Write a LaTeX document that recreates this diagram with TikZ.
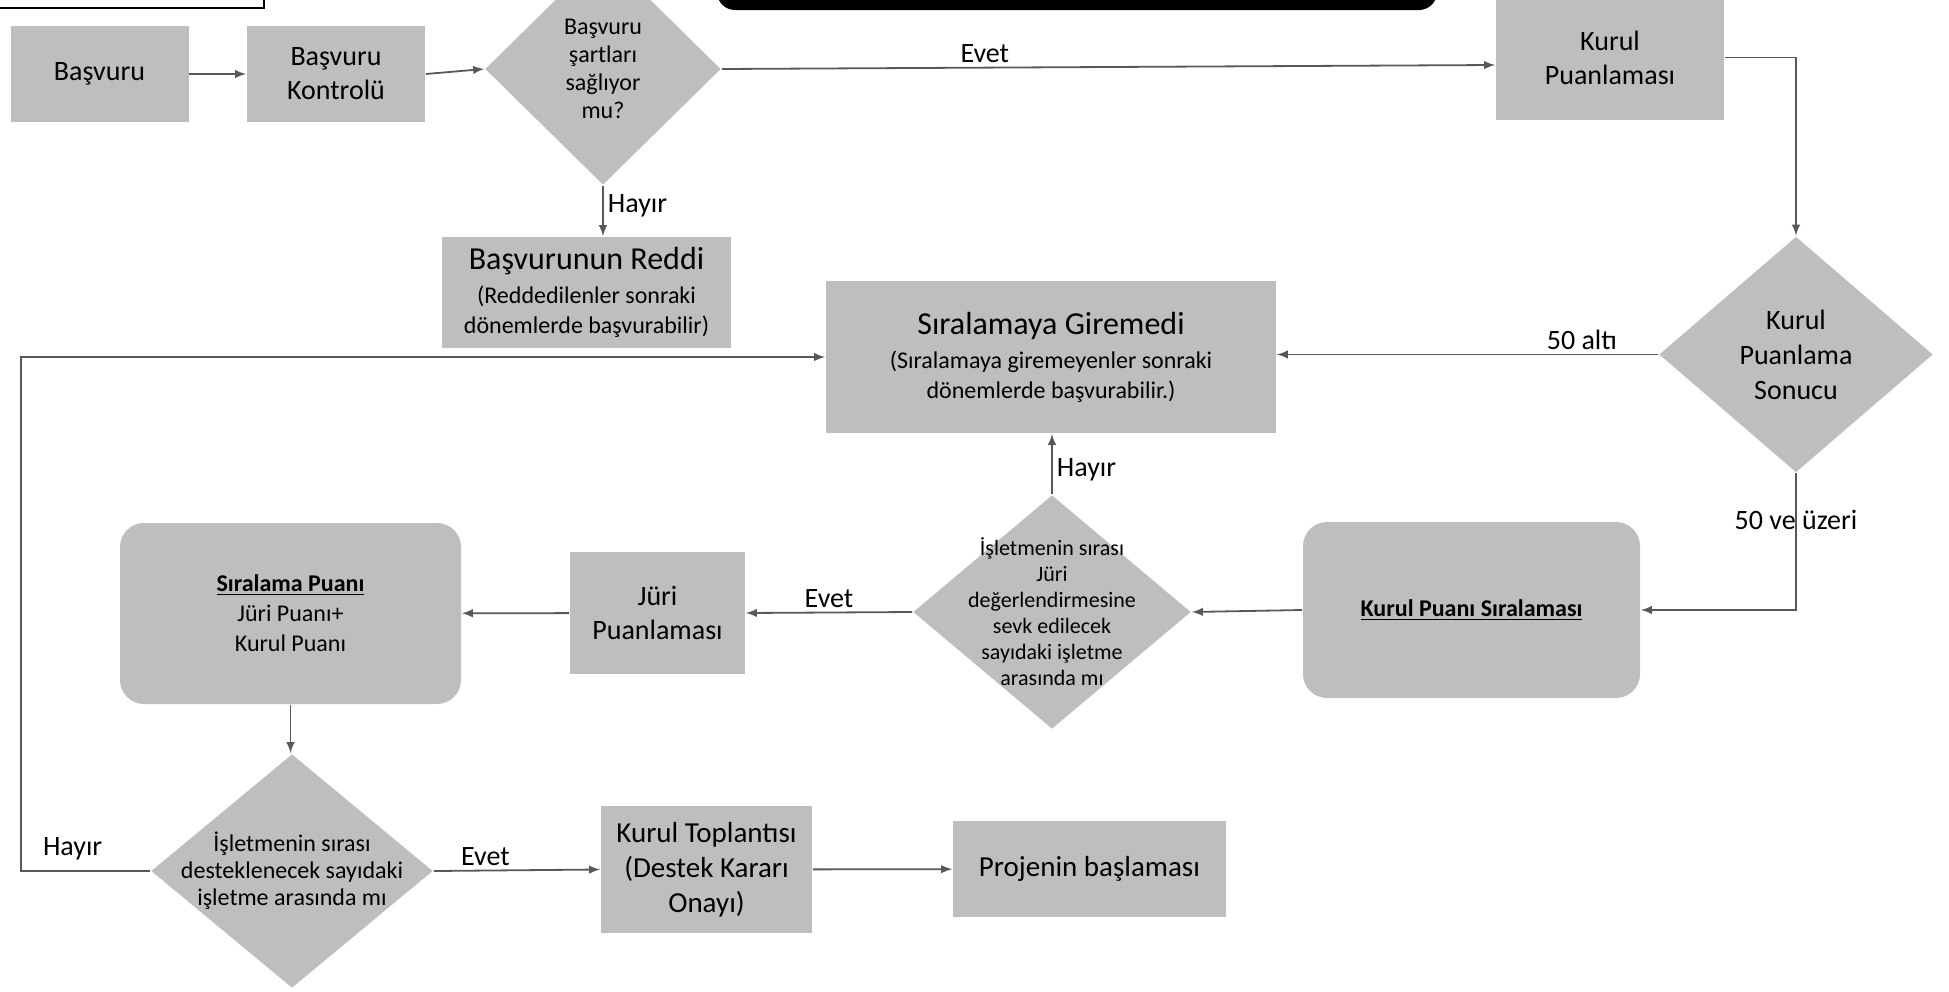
\documentclass[tikz,border=0pt]{standalone}
\usepackage{fontspec}
\setmainfont{Carlito}
\usepackage{tikz}
\usetikzlibrary{arrows,shapes.geometric}
\usetikzlibrary{calc}
\usetikzlibrary{positioning}

\definecolor{boxgray}{RGB}{190,190,190}
\definecolor{linegray}{RGB}{88,88,88}

\begin{document}
\begin{tikzpicture}[-latex,x=0.5pt,y=-0.5pt,line width=0.9pt]
	\tikzstyle{box}=[rectangle, fill=boxgray, draw=none, align=center, inner sep=2pt, font=\fontsize{14}{17}\selectfont]
	\tikzstyle{rbox}=[box, rounded corners=12pt]
	\tikzstyle{decision}=[diamond, fill=boxgray, draw=none, inner sep=0pt]
	\tikzstyle{dtext}=[align=center, font=\fontsize{12}{14}\selectfont]
	\tikzstyle{lbl}=[font=\fontsize{14}{17}\selectfont, text=black, inner sep=2pt]
	\tikzstyle{conn}=[draw=linegray, -latex]

	\clip (0,0) rectangle (1949,991);

	% cut-off shapes at the top edge
	\draw[-, black, line width=0.8pt, fill=white] (-20,-60) rectangle (264,8);
	\fill[black, rounded corners=9pt] (717,-60) rectangle (1437,10);

	% first row
	\node[box, minimum width=89pt, minimum height=48pt] (bas) at (99.5,74) {Başvuru};
	\node[box, minimum width=89pt, minimum height=48pt] (kontrol) at (336,74) {Başvuru\\Kontrolü};
	\node[decision, minimum width=118pt, minimum height=116pt] (sart) at (603,69) {};
	\node[dtext] (sarttxt) at (sart) {Başvuru\\şartları\\sağlıyor\\mu?};
	\node[box, minimum width=114pt, minimum height=62.5pt] (kpuan) at (1610,57.5) {Kurul\\Puanlaması};

	\node[box, minimum width=144.5pt, minimum height=55.5pt, font=\fontsize{12}{15}\selectfont] (red) at (586.5,292.5)
		{{\fontsize{16}{19}\selectfont Başvurunun Reddi}\\[2pt](Reddedilenler sonraki\\dönemlerde başvurabilir)};
	\node[box, minimum width=225pt, minimum height=76pt, font=\fontsize{12}{15}\selectfont] (sira) at (1051,357)
		{{\fontsize{16}{19}\selectfont Sıralamaya Giremedi}\\[2pt](Sıralamaya giremeyenler sonraki\\dönemlerde başvurabilir.)};
	\node[decision, minimum width=137pt, minimum height=118pt] (sonuc) at (1796,354.5) {};
	\node[dtext, font=\fontsize{14}{17.5}\selectfont] (sonuctxt) at (sonuc) {Kurul\\Puanlama\\Sonucu};

	% middle row
	\node[rbox, minimum width=168.5pt, minimum height=88pt, font=\fontsize{12}{14}\selectfont] (kps) at (1471.5,610) {\underline{\textbf{Kurul Puanı Sıralaması}}};
	\node[decision, minimum width=139pt, minimum height=117pt] (jsev) at (1052,612) {};
	\node[dtext, font=\fontsize{11}{13}\selectfont] (jsevtxt) at (jsev) {İşletmenin sırası\\Jüri\\değerlendirmesine\\sevk edilecek\\sayıdaki işletme\\arasında mı};
	\node[box, minimum width=87.5pt, minimum height=61pt] (juri) at (657.5,613) {Jüri\\Puanlaması};
	\node[rbox, minimum width=170.5pt, minimum height=90.5pt, font=\fontsize{12}{15}\selectfont] (spuan) at (290.5,613.5) {\underline{\textbf{Sıralama Puanı}}\\Jüri Puanı+\\Kurul Puanı};

	% last row
	\node[decision, minimum width=141pt, minimum height=117pt] (dest) at (292,871) {};
	\node[dtext, font=\fontsize{12}{13.5}\selectfont] (desttxt) at (dest) {İşletmenin sırası\\desteklenecek sayıdaki\\işletme arasında mı};
	\node[box, minimum width=105.5pt, minimum height=63.5pt, font=\fontsize{14.5}{17.5}\selectfont] (toplanti) at (706.5,869.5) {Kurul Toplantısı\\(Destek Kararı\\Onayı)};
	\node[box, minimum width=136.5pt, minimum height=48pt, font=\fontsize{14.5}{17.5}\selectfont] (proje) at (1089.5,869) {Projenin başlaması};

	\coordinate (lft) at (21,0);

	% connectors
	\draw[conn] (bas) -- (kontrol);
	\draw[conn] (kontrol.east) -- (sart.west);
	\draw[conn] (sart.east) -- node[lbl, above, pos=0.34] {Evet} ($(kpuan.west)+(0,7.5)$);
	\draw[conn] (sart.south) -- node[lbl, right, pos=0.4] {Hayır} (sart.south |- red.north);
	\draw[conn] (kpuan.east) -| (sonuc.north);
	\draw[conn] (sonuc.west) -- node[lbl, above, pos=0.2] {50 altı} (sonuc.west -| sira.east);
	\draw[conn] (sonuc.south) |- node[lbl, pos=0.17] {50 ve üzeri} (kps.east);
	\draw[conn] (kps.west) -- (jsev.east);
	\draw[conn] (jsev.north) -- node[lbl, right, pos=0.4] {Hayır} (jsev.north |- sira.south);
	\draw[conn] (jsev.west) -- node[lbl, above, pos=0.5] {Evet} (juri.east);
	\draw[conn] (juri) -- (spuan);
	\draw[conn] (spuan.south) -- (spuan.south |- dest.north);
	\draw[conn] (dest.east) -- node[lbl, above, pos=0.31] {Evet} (toplanti.west);
	\draw[conn] (toplanti) -- (proje);
	\draw[conn] (dest.west) -- node[lbl, above=3pt, pos=0.6] {Hayır} (dest.west -| lft) |- (sira.west);
\end{tikzpicture}
\end{document}
